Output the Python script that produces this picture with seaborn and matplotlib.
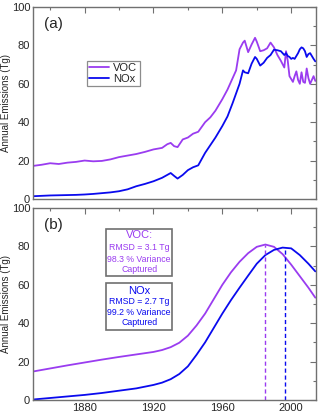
import numpy as np
import pandas as pd
import seaborn as sns
import matplotlib
matplotlib.use("Agg")
import matplotlib.pyplot as plt
from matplotlib.ticker import MultipleLocator
from matplotlib.patches import Rectangle

# ---- data: panel (a) observed inventories ----
years_a = [1850, 1855, 1860, 1865, 1870, 1875, 1880, 1885, 1890, 1895, 1900, 1905,
           1910, 1915, 1920, 1925, 1928, 1930, 1932, 1934, 1937, 1940, 1943, 1946,
           1950, 1953, 1956, 1960, 1963, 1966, 1968, 1970, 1972, 1973, 1975, 1977,
           1979, 1980, 1982, 1984, 1986, 1988, 1990, 1992, 1994, 1996, 1997, 1998,
           1999, 2000, 2001, 2002, 2003, 2004, 2005, 2006, 2007, 2008, 2009, 2010,
           2011, 2012, 2013, 2014]
voc_a = [17.2, 17.8, 18.6, 18.2, 18.9, 19.3, 20.0, 19.6, 19.8, 20.6, 21.8, 22.6,
         23.4, 24.5, 25.8, 26.6, 28.5, 29.2, 27.5, 27.0, 31.0, 32.0, 34.0, 35.0,
         40.0, 42.5, 46.0, 52.0, 57.0, 63.0, 67.0, 78.0, 81.5, 82.5, 76.5, 80.5,
         84.0, 82.0, 77.0, 77.5, 78.5, 81.5, 79.0, 75.0, 72.0, 68.5, 77.0, 72.0,
         64.0, 62.5, 61.0, 64.0, 66.5, 62.0, 60.0, 66.0, 61.0, 60.5, 68.0, 63.0,
         60.0, 62.0, 64.0, 61.5]
nox_a = [1.4, 1.6, 1.8, 1.9, 2.0, 2.1, 2.3, 2.6, 3.0, 3.4, 4.0, 5.0,
         6.6, 7.8, 9.2, 11.0, 12.5, 13.5, 12.0, 10.6, 12.5, 15.0, 16.5, 17.5,
         24.0, 28.0, 32.0, 38.0, 43.0, 50.0, 55.0, 60.0, 67.0, 66.0, 65.5, 70.5,
         74.0, 73.0, 69.5, 71.0, 73.5, 75.0, 77.8, 77.5, 77.0, 75.0, 76.0, 74.5,
         74.0, 73.0, 73.5, 73.0, 74.5, 76.0, 78.0, 79.0, 78.5, 77.0, 74.0, 75.5,
         76.0, 74.5, 73.0, 71.7]

# ---- data: panel (b) fitted curves ----
years_b = [1850, 1860, 1870, 1880, 1890, 1900, 1910, 1920, 1925, 1930, 1935, 1940,
           1945, 1950, 1955, 1960, 1965, 1970, 1975, 1980, 1985, 1990, 1995, 2000,
           2005, 2010, 2014]
voc_b = [14.8, 16.4, 18.0, 19.5, 21.0, 22.4, 23.7, 25.0, 26.0, 27.5, 29.8, 33.5,
         38.8, 45.0, 52.5, 60.0, 66.5, 72.0, 76.5, 79.8, 81.0, 79.8, 76.0, 70.5,
         64.5, 58.5, 53.3]
nox_b = [0.2, 1.0, 1.8, 2.6, 3.6, 4.8, 6.0, 7.8, 9.0, 10.8, 13.5, 17.5,
         23.5, 30.0, 37.5, 45.0, 52.0, 58.5, 64.8, 71.0, 75.5, 78.2, 79.4, 79.0,
         75.5, 71.0, 67.0]
peak_years = [1984.5, 1996.5]
peak_vals = [81.0, 79.4]

voc_lines = ["VOC:", "RMSD = 3.1 Tg", "98.3 % Variance", "Captured"]
nox_lines = ["NOx", "RMSD = 2.7 Tg", "99.2 % Variance", "Captured"]

voc_col = "#9a3cf0"
nox_col = "#0a0aee"
gray = "#707070"

sns.set_theme(style="white")
plt.rcParams['font.family'] = ['Liberation Sans', 'DejaVu Sans']

fig = plt.figure(figsize=(3.2, 4.17), dpi=100)
ax1 = fig.add_axes([0.103, 0.523, 0.885, 0.460])
ax2 = fig.add_axes([0.103, 0.041, 0.885, 0.460])

dfa = pd.DataFrame({"year": years_a, "VOC": voc_a, "NOx": nox_a})
dfb = pd.DataFrame({"year": years_b, "VOC": voc_b, "NOx": nox_b})

sns.lineplot(data=dfa, x="year", y="VOC", ax=ax1, color=voc_col, lw=1.3, label="VOC")
sns.lineplot(data=dfa, x="year", y="NOx", ax=ax1, color=nox_col, lw=1.3, label="NOx")
sns.lineplot(data=dfb, x="year", y="VOC", ax=ax2, color=voc_col, lw=1.3)
sns.lineplot(data=dfb, x="year", y="NOx", ax=ax2, color=nox_col, lw=1.3)

ax2.plot([peak_years[0]] * 2, [0, peak_vals[0]], color=voc_col, ls=(0, (3, 2)), lw=1.0)
ax2.plot([peak_years[1]] * 2, [0, peak_vals[1]], color=nox_col, ls=(0, (3, 2)), lw=1.0)

for ax in (ax1, ax2):
    ax.set_xlim(1850, 2014.5)
    ax.set_ylim(0, 100)
    ax.xaxis.set_major_locator(MultipleLocator(40))
    ax.xaxis.set_minor_locator(MultipleLocator(20))
    ax.yaxis.set_major_locator(MultipleLocator(20))
    ax.yaxis.set_minor_locator(MultipleLocator(10))
    ax.tick_params(which="both", direction="in", top=True, right=True,
                   color=gray, labelsize=8, pad=2, width=0.8)
    ax.tick_params(which="major", length=4)
    ax.tick_params(which="minor", length=2.5)
    for s in ax.spines.values():
        s.set_color(gray)
        s.set_linewidth(1.0)
    ax.set_xlabel("")
    ax.set_ylabel("Annual Emissions (Tg)", fontsize=7)
    ax.yaxis.set_label_coords(-0.078, 0.5)

ax1.tick_params(labelbottom=False)
ax1.text(0.04, 0.91, "(a)", transform=ax1.transAxes, fontsize=11, va="center")
ax2.text(0.04, 0.91, "(b)", transform=ax2.transAxes, fontsize=11, va="center")

leg = ax1.legend(loc="upper left", bbox_to_anchor=(0.19, 0.72), fontsize=8,
                 frameon=True, fancybox=False, handlelength=1.8, borderpad=0.2,
                 labelspacing=0.1, handletextpad=0.4, borderaxespad=0)
leg.get_frame().set_edgecolor(gray)
leg.get_frame().set_linewidth(0.9)

cx = 0.375
voc_y = [0.859, 0.792, 0.734, 0.682]
nox_y = [0.569, 0.512, 0.455, 0.401]
for i, (t, y) in enumerate(zip(voc_lines, voc_y)):
    ax2.text(cx, y, t, transform=ax2.transAxes, ha="center", va="center",
             fontsize=8 if i == 0 else 6.3, color=voc_col)
for i, (t, y) in enumerate(zip(nox_lines, nox_y)):
    ax2.text(cx, y, t, transform=ax2.transAxes, ha="center", va="center",
             fontsize=8 if i == 0 else 6.3, color=nox_col)

ax2.add_patch(Rectangle((0.258, 0.646), 0.233, 0.244, transform=ax2.transAxes,
                        fc="none", ec=gray, lw=1.2, zorder=5))
ax2.add_patch(Rectangle((0.258, 0.365), 0.233, 0.244, transform=ax2.transAxes,
                        fc="none", ec=gray, lw=1.2, zorder=5))

fig.savefig("out.png", dpi=100)
